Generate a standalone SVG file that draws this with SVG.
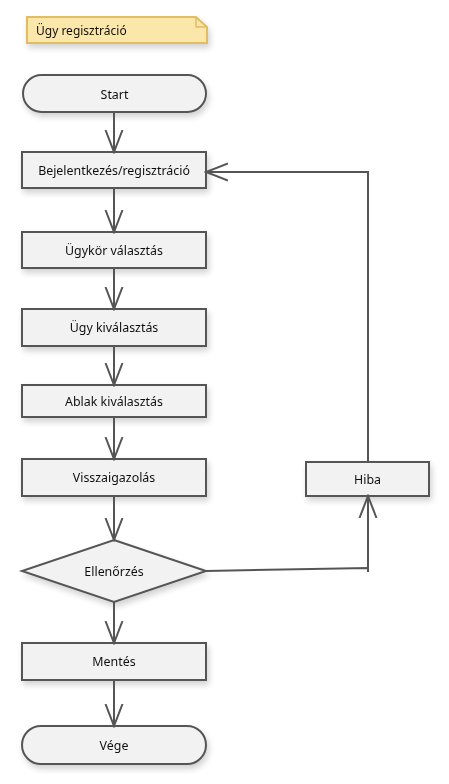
<svg xmlns="http://www.w3.org/2000/svg" width="449" height="784" viewBox="0 0 449 784">
<style>
.n{fill:#f2f2f2;stroke:#555;stroke-width:2}
.t{font-family:"Noto Sans","Open Sans",sans-serif;font-size:12.4px;fill:#111;text-anchor:middle;dominant-baseline:central}
.c{fill:none;stroke:#555;stroke-width:2}
.note{fill:#fce7aa;stroke:#e2bc62;stroke-width:2}
</style>
<defs>
<filter id="sh" x="-10%" y="-20%" width="125%" height="160%">
<feGaussianBlur in="SourceAlpha" stdDeviation="3"/>
<feOffset dx="2" dy="4" result="b"/>
<feComponentTransfer><feFuncA type="linear" slope="0.18"/></feComponentTransfer>
<feMerge><feMergeNode/><feMergeNode in="SourceGraphic"/></feMerge>
</filter>
<marker id="a" markerWidth="24" markerHeight="20" refX="22" refY="10" orient="auto" markerUnits="userSpaceOnUse">
<path d="M0,1.5 L22,10 L0,18.5" fill="none" stroke="#555" stroke-width="2"/>
</marker>
</defs>
<g id="note" filter="url(#sh)">
<path class="note" d="M27,17 H196 L207,27 V43 H27 Z"/>
<path d="M196,17 V27 H207" fill="none" stroke="#e2bc62" stroke-width="1.5"/>
<text class="t" x="36" y="30" style="text-anchor:start;font-size:12px">Ügy regisztráció</text>
</g>
<g id="start" filter="url(#sh)">
<rect class="n" x="23" y="75" width="183" height="37" rx="18.5"/>
<text class="t" x="114.5" y="94">Start</text>
</g>
<g id="bejelentkezes" filter="url(#sh)">
<rect class="n" x="22" y="152" width="184" height="36"/>
<text class="t" x="114" y="170">Bejelentkezés/regisztráció</text>
</g>
<g id="ugykor" filter="url(#sh)">
<rect class="n" x="22" y="232" width="184" height="36"/>
<text class="t" x="114" y="250">Ügykör választás</text>
</g>
<g id="ugy" filter="url(#sh)">
<rect class="n" x="22" y="309" width="184" height="37"/>
<text class="t" x="114" y="327.5">Ügy kiválasztás</text>
</g>
<g id="ablak" filter="url(#sh)">
<rect class="n" x="22" y="385" width="184" height="32"/>
<text class="t" x="114" y="401">Ablak kiválasztás</text>
</g>
<g id="visszaigazolas" filter="url(#sh)">
<rect class="n" x="22" y="459" width="184" height="37"/>
<text class="t" x="114" y="477.5">Visszaigazolás</text>
</g>
<g id="ellenorzes" filter="url(#sh)">
<path class="n" d="M114,540 L206,571 L114,602 L22,571 Z"/>
<text class="t" x="114" y="571">Ellenőrzés</text>
</g>
<g id="mentes" filter="url(#sh)">
<rect class="n" x="22" y="643" width="184" height="37"/>
<text class="t" x="114" y="661.5">Mentés</text>
</g>
<g id="vege" filter="url(#sh)">
<rect class="n" x="22" y="726" width="184" height="38" rx="19"/>
<text class="t" x="114" y="745">Vége</text>
</g>
<g id="hiba" filter="url(#sh)">
<rect class="n" x="306" y="462" width="123" height="34"/>
<text class="t" x="367.5" y="479">Hiba</text>
</g>
<g id="connectors">
<path class="c" marker-end="url(#a)" d="M114,112 V152"/>
<path class="c" marker-end="url(#a)" d="M114,188 V232"/>
<path class="c" marker-end="url(#a)" d="M114,268 V309"/>
<path class="c" marker-end="url(#a)" d="M114,346 V385"/>
<path class="c" marker-end="url(#a)" d="M114,417 V459"/>
<path class="c" marker-end="url(#a)" d="M114,496 V540"/>
<path class="c" marker-end="url(#a)" d="M114,602 V643"/>
<path class="c" marker-end="url(#a)" d="M114,680 V726"/>
<path class="c" marker-end="url(#a)" d="M206,571 L368,568 V572 M368,572 V496"/>
<path class="c" marker-end="url(#a)" d="M368,462 V172 H206"/>
</g>
</svg>
